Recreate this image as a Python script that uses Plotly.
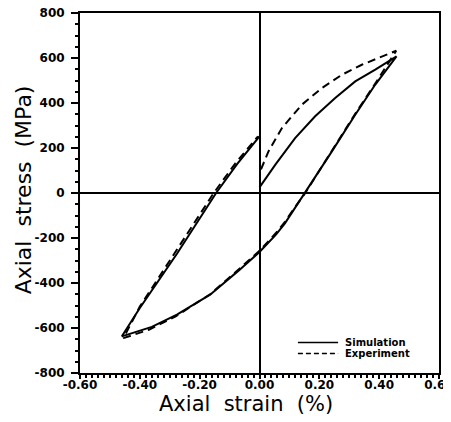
import plotly.graph_objects as go

# Simulation hysteresis loop (strain %, stress MPa)
sim_strain = [0.0, 0.008, 0.053, 0.119, 0.186, 0.253, 0.320, 0.387, 0.458,
              0.387, 0.320, 0.242, 0.150, 0.115, 0.085, 0.055, 0.025, 0.0,
              -0.07, -0.165, -0.276, -0.36, -0.46,
              -0.40, -0.276, -0.145, -0.075, 0.0]
sim_stress = [25, 40, 126, 244, 341, 422, 496, 548, 607,
              482, 348, 185, 0, -74, -135, -185, -228, -262,
              -345, -452, -541, -595, -637,
              -511, -270, 0, 128, 252]

# Experiment hysteresis loop
exp_strain = [0.005, 0.030, 0.075, 0.142, 0.209, 0.276, 0.342, 0.409, 0.457,
              0.387, 0.320, 0.242, 0.153, 0.115, 0.085, 0.055, 0.025, 0.0,
              -0.07, -0.165, -0.28, -0.37, -0.455,
              -0.40, -0.285, -0.153, -0.080, -0.005]
exp_stress = [105, 185, 289, 393, 467, 526, 570, 607, 632,
              487, 352, 188, 0, -70, -128, -178, -222, -257,
              -340, -450, -548, -608, -645,
              -505, -270, 0, 133, 252]

x_ticks = [-0.6, -0.4, -0.2, 0.0, 0.2, 0.4, 0.6]
x_labels = ["-0.60", "-0.40", "-0.20", "0.00", "0.20", "0.40", "0.60"]
y_ticks = [-800, -600, -400, -200, 0, 200, 400, 600, 800]
y_labels = ["-800", "-600", "-400", "-200", "0", "200", "400", "600", "800"]
series_names = ["Simulation", "Experiment"]

TICK_FONT = dict(family="DejaVu Sans", size=12, color="black", weight="bold")
TITLE_FONT = "DejaVu Sans"

fig = go.Figure()
fig.add_trace(go.Scatter(x=sim_strain, y=sim_stress, mode="lines", name=series_names[0],
                         line=dict(color="black", width=2), showlegend=False))
fig.add_trace(go.Scatter(x=exp_strain, y=exp_stress, mode="lines", name=series_names[1],
                         line=dict(color="black", width=2, dash="8px,5px"), showlegend=False))

axis_common = dict(
    showgrid=False, showline=True, linecolor="black", linewidth=2, mirror=True,
    zeroline=True, zerolinecolor="black", zerolinewidth=2,
    ticks="outside", tickwidth=2, tickcolor="black", tickfont=TICK_FONT,
    ticklabeloverflow="allow",
)

fig.update_xaxes(range=[-0.6, 0.6], tickvals=x_ticks, ticktext=x_labels, ticklen=4,
                 ticklabelstandoff=-4,
                 minor=dict(dtick=0.02, ticks="outside", ticklen=3, tickwidth=1.5, tickcolor="black"),
                 **axis_common)
fig.update_yaxes(range=[-800, 800], tickvals=y_ticks, ticktext=y_labels, ticklen=7,
                 ticklabelstandoff=4,
                 minor=dict(dtick=50, ticks="outside", ticklen=3, tickwidth=1.5, tickcolor="black"),
                 **axis_common)

annotations = [
    dict(text="Axial\u00a0\u00a0strain\u00a0\u00a0(%)", xref="paper", yref="paper",
         x=0.462, y=-0.086, xanchor="center", yanchor="middle", showarrow=False,
         font=dict(family=TITLE_FONT, size=21, color="black")),
    dict(text="Axial\u00a0\u00a0stress\u00a0\u00a0(MPa)", xref="paper", yref="paper",
         x=-0.159, y=0.51, xanchor="center", yanchor="middle", showarrow=False, textangle=-90,
         font=dict(family=TITLE_FONT, size=22, color="black")),
]
shapes = []
# manual legend (paper coordinates inside the plot area)
leg_rows = [0.085, 0.054]
leg_dash = ["solid", "5px,3px"]
for name, yy, dsh in zip(series_names, leg_rows, leg_dash):
    shapes.append(dict(type="line", xref="paper", yref="paper", x0=0.607, x1=0.719,
                       y0=yy, y1=yy, line=dict(color="black", width=1.5, dash=dsh)))
    annotations.append(dict(text=name, xref="paper", yref="paper", x=0.735, y=yy,
                            xanchor="left", yanchor="middle", showarrow=False,
                            borderpad=0,
                            font=dict(family="DejaVu Sans", size=10, color="black", weight="bold")))

fig.update_layout(
    width=443, height=414,
    margin=dict(l=72, r=12, t=5, b=49, autoexpand=False),
    paper_bgcolor="white", plot_bgcolor="white",
    showlegend=False,
    annotations=annotations, shapes=shapes,
)

fig.write_html("out.html")
